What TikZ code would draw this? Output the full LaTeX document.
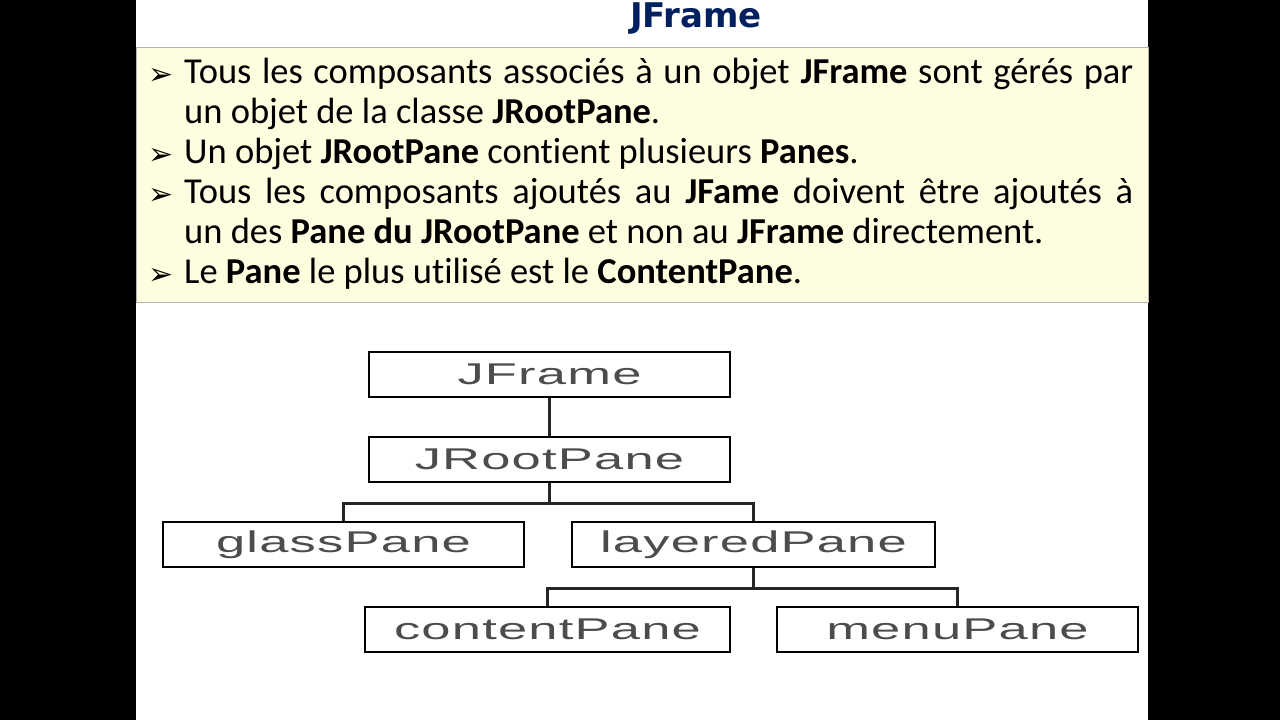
\documentclass[tikz,border=0pt]{standalone}
\usepackage{fontspec}
\setmainfont[RawFeature=-liga]{Carlito}
\newfontfamily\treefont[FakeStretch=1.75,LetterSpace=4]{Liberation Sans}
\newfontfamily\symfont{DejaVu Sans}
\newfontfamily\titlefont{DejaVu Sans}
\begin{document}
\begin{tikzpicture}[x=1pt,y=-1pt,
  treebox/.style={draw=black,line width=2.5pt,minimum width=#1,minimum height=45pt,inner sep=0pt,font=\treefont\fontsize{30}{30}\selectfont,text=black!70},
  conn/.style={line width=2.5pt,black!85},
  bul/.style={anchor=base west,font=\symfont\fontsize{30}{30}\selectfont},
  para/.style={anchor=north west,text width=949pt,align=justify,inner sep=0pt,font=\fontsize{36.5}{40}\selectfont}]
\useasboundingbox (0,0) rectangle (1280,720);
\fill[black] (0,0) rectangle (1280,720);
\fill[white] (136,0) rectangle (1148,720);
\filldraw[fill=yellow!12,draw=black!30,line width=1pt] (136,47) rectangle (1148,302);
\node[font=\titlefont\bfseries\fontsize{34}{34}\selectfont,text={rgb,255:red,0;green,32;blue,96}] (title) at (696,19) {JFrame};
\node[bul] (b1) at (145,84) {➢};
\node[bul] (b2) at (145,164) {➢};
\node[bul] (b3) at (145,204) {➢};
\node[bul] (b4) at (145,284) {➢};
\node[para] (p1) at (184,58) {Tous les composants associés à un objet \textbf{JFrame} sont gérés par\linebreak un objet de la classe \textbf{JRootPane}.};
\node[para] (p2) at (184,138) {Un objet \textbf{JRootPane} contient plusieurs \textbf{Panes}.};
\node[para] (p3) at (184,178) {Tous les composants ajoutés au \textbf{JFame} doivent être ajoutés à\linebreak un des \textbf{Pane du JRootPane} et non au \textbf{JFrame} directement.};
\node[para] (p4) at (184,258) {Le \textbf{Pane} le plus utilisé est le \textbf{ContentPane}.};
\node[treebox=361pt] (jf) at (549.5,374.5) {JFrame};
\node[treebox=361pt] (jr) at (549.5,459.5) {JRootPane};
\node[treebox=361pt] (gp) at (343.5,544.5) {glassPane};
\node[treebox=363pt] (lp) at (753.5,544.5) {layeredPane};
\node[treebox=365pt] (cp) at (547.5,629.5) {contentPane};
\node[treebox=361pt] (mp) at (957.5,629.5) {menuPane};
\draw[conn] (jf.south) -- (jr.north);
\draw[conn] (jr.south) -- ++(0,20) -| (gp.north);
\draw[conn] (jr.south) ++(0,20) -| (lp.north);
\draw[conn] (lp.south) -- ++(0,20) -| (cp.north);
\draw[conn] (lp.south) ++(0,20) -| (mp.north);
\end{tikzpicture}
\end{document}
